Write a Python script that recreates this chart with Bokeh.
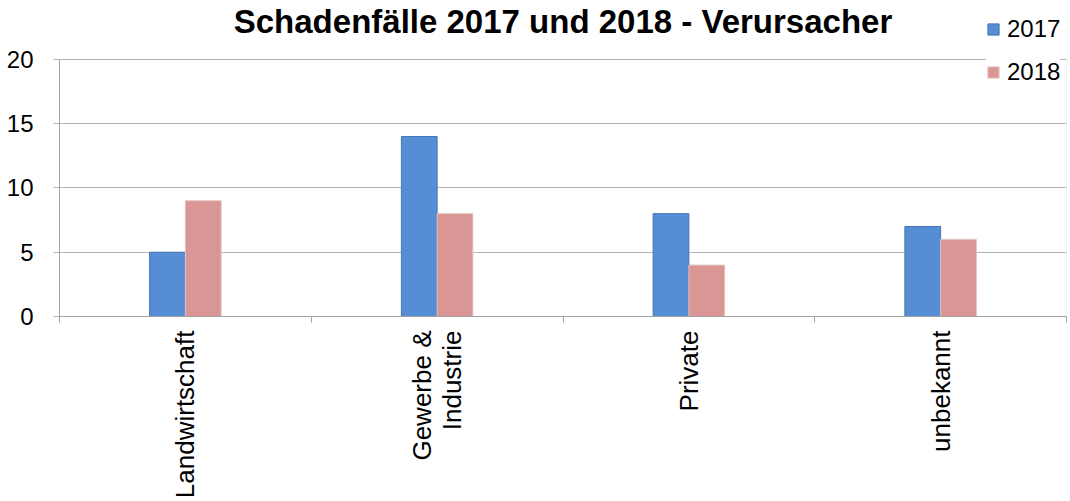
import math
from bokeh.plotting import figure
from bokeh.models import (Range1d, LinearAxis, FixedTicker, Label, BoxAnnotation,
                          Legend, LegendItem, ColumnDataSource)
from bokeh.transform import dodge
from bokeh.embed import file_html
from bokeh.resources import INLINE

categories = ["Landwirtschaft", "Gewerbe &\nIndustrie", "Private", "unbekannt"]
values_2017 = [5, 14, 8, 7]
values_2018 = [9, 8, 4, 6]
series_names = ["2017", "2018"]
y_ticks = [0, 5, 10, 15, 20]
title_text = "Schadenfälle 2017 und 2018 - Verursacher"

FONT = "Liberation Sans"
GRID = "#B4B4B4"
AXIS = "#A0A0A0"

n = len(categories)
centers = [i + 0.5 for i in range(n)]
source = ColumnDataSource(dict(x=centers, v2017=values_2017, v2018=values_2018))

# frame spans the full top of the canvas so that the legend and title can sit above the 20 line
Y_MAX = 20
Y_END = Y_MAX * 317 / 258

p = figure(x_range=Range1d(0, n), y_range=Range1d(0, Y_END),
           width=1070, height=501,
           min_border_left=59, min_border_right=4, min_border_top=0, min_border_bottom=184,
           output_backend="svg", toolbar_location=None)

p.outline_line_color = None
p.background_fill_color = "white"
p.border_fill_color = "white"

# y axis
p.yaxis.ticker = FixedTicker(ticks=y_ticks)
p.yaxis.bounds = (0, Y_MAX)
p.yaxis.axis_line_color = AXIS
p.yaxis.major_tick_line_color = GRID
p.yaxis.major_tick_out = 6
p.yaxis.major_tick_in = 0
p.yaxis.minor_tick_line_color = None
p.yaxis.major_label_text_font = FONT
p.yaxis.major_label_text_font_size = "24px"
p.yaxis.major_label_text_color = "black"
p.yaxis.major_label_standoff = 20

p.ygrid.ticker = FixedTicker(ticks=y_ticks)
p.ygrid.grid_line_color = GRID
p.xgrid.grid_line_color = None

# x axis: labels at category centres, small ticks at the category boundaries
p.xaxis.ticker = FixedTicker(ticks=centers, minor_ticks=list(range(n + 1)))
p.xaxis.major_label_overrides = {c: lab for c, lab in zip(centers, categories)}
p.xaxis.axis_line_color = AXIS
p.xaxis.major_tick_line_color = None
p.xaxis.minor_tick_line_color = AXIS
p.xaxis.minor_tick_out = 6
p.xaxis.minor_tick_in = 0
p.xaxis.major_tick_out = 6
p.xaxis.major_tick_in = 0
p.xaxis.major_label_orientation = math.pi / 2
p.xaxis.major_label_text_font = FONT
p.xaxis.major_label_text_font_size = "26px"
p.xaxis.major_label_text_line_height = 1.0
p.xaxis.major_label_text_color = "black"
p.xaxis.major_label_standoff = 8

# plot-area border (right edge), partially hidden by the legend as in the original
p.add_layout(BoxAnnotation(left=0, right=n, bottom=0, top=Y_MAX,
                           fill_color=None, line_color=GRID, line_width=1))

r1 = p.vbar(x=dodge("x", -0.071), top="v2017", width=0.142, source=source,
            fill_color="#558ED5", line_color="#4674B4", line_width=1)
r2 = p.vbar(x=dodge("x", 0.071), top="v2018", width=0.142, source=source,
            fill_color="#D99694", line_color="#E2C4C3", line_width=1)

p.add_layout(Label(x=n / 2, y=22.94, text=title_text, text_align="center",
                   text_baseline="alphabetic", text_font=FONT, text_font_size="33px",
                   text_font_style="bold", text_color="black"))

legend = Legend(items=[LegendItem(label=series_names[0], renderers=[r1]),
                       LegendItem(label=series_names[1], renderers=[r2])],
                location=(927, 230))
legend.border_line_color = None
legend.background_fill_color = "white"
legend.background_fill_alpha = 1
legend.label_text_font = FONT
legend.label_text_font_size = "24px"
legend.label_text_color = "black"
legend.glyph_width = 14
legend.glyph_height = 14
legend.label_height = 24
legend.label_standoff = 7
legend.spacing = 15
legend.padding = 10
legend.margin = 0
p.add_layout(legend, "center")

open("out.html", "w").write(file_html(p, INLINE))
